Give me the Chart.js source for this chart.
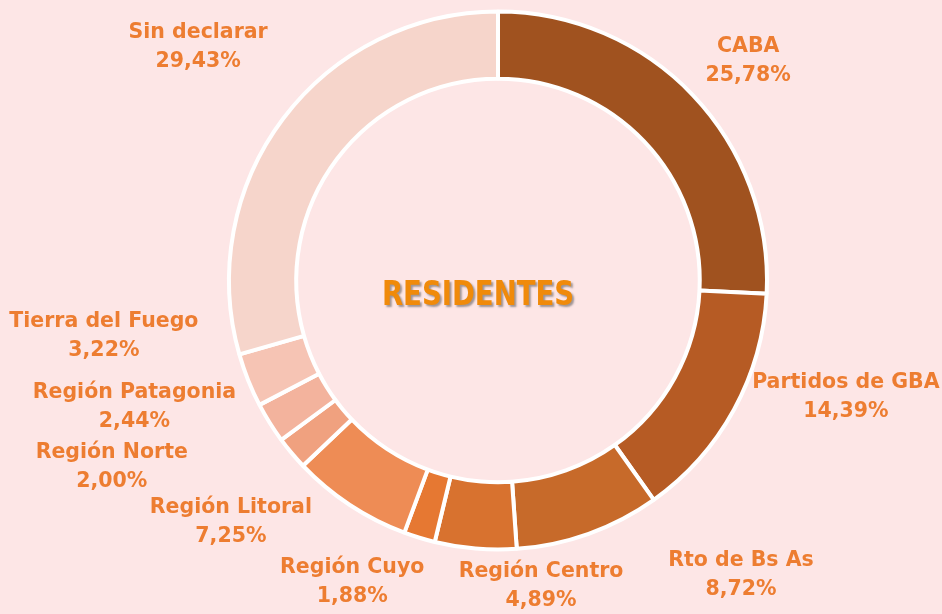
<!DOCTYPE html>
<html>
<head>
<meta charset="utf-8">
<script src="https://cdn.jsdelivr.net/npm/chart.js@4.4.0/dist/chart.umd.min.js"></script>
<style>
    html, body { margin: 0; padding: 0; background: #FDE6E6; }
    #wrap { width: 942px; height: 614px; }
</style>
</head>
<body>
<div id="wrap"><canvas id="residentesChart"></canvas></div>
<script>
// Datos
const regiones = ['CABA', 'Partidos de GBA', 'Rto de Bs As', 'Región Centro', 'Región Cuyo',
    'Región Litoral', 'Región Norte', 'Región Patagonia', 'Tierra del Fuego', 'Sin declarar'];
const porcentajes = [25.78, 14.39, 8.72, 4.89, 1.88, 7.25, 2.00, 2.44, 3.22, 29.43];
const colores = ['#A0521F', '#B65B24', '#C76A2A', '#D8722F', '#E67832',
    '#EE8C55', '#F0A17F', '#F3B39D', '#F6C4B4', '#F6D5CB'];
const titulo = 'RESIDENTES';

// Ubicación de las etiquetas (ángulo desde arriba en grados, distancia al centro en px)
const etiquetaAngulo = [48.7, 108.6, 140.5, 172, 205.8, 227.9, 244.2, 250.8, 262, 307.9];
const etiquetaDist = [333, 367, 382, 309, 335, 360, 429, 385, 398, 380];

function formatPct(v) {
    return v.toFixed(2).replace('.', ',') + '%';
}

const etiquetasPlugin = {
    id: 'etiquetas',
    afterDatasetsDraw(chart) {
        const ctx = chart.ctx;
        const arc = chart.getDatasetMeta(0).data[0];
        const cx = arc.x, cy = arc.y;
        ctx.save();
        ctx.textAlign = 'center';
        ctx.textBaseline = 'middle';
        ctx.fillStyle = '#ED7D31';
        ctx.font = 'bold 20.5px "DejaVu Sans"';
        regiones.forEach(function(nombre, i) {
            const a = etiquetaAngulo[i] * Math.PI / 180;
            const x = cx + Math.sin(a) * etiquetaDist[i];
            const y = cy - Math.cos(a) * etiquetaDist[i];
            ctx.fillText(nombre, x, y - 14.5);
            ctx.fillText(formatPct(porcentajes[i]), x, y + 14.5);
        });

        // Título central (algo a la izquierda del centro, como en el original)
        ctx.font = 'bold 34px "DejaVu Sans Condensed", "DejaVu Sans"';
        ctx.shadowColor = 'rgba(80, 80, 80, 0.55)';
        ctx.shadowOffsetX = 2;
        ctx.shadowOffsetY = 2;
        ctx.shadowBlur = 2;
        ctx.fillStyle = '#F08A0A';
        ctx.translate(cx - 20, cy + 16);
        ctx.scale(0.9, 1);
        ctx.fillText(titulo, 0, 0);
        ctx.restore();
    }
};

const ctx = document.getElementById('residentesChart').getContext('2d');
new Chart(ctx, {
    type: 'doughnut',
    data: {
        labels: regiones,
        datasets: [{
            data: porcentajes,
            backgroundColor: colores,
            borderColor: '#FFFFFF',
            borderWidth: 4
        }]
    },
    options: {
        responsive: true,
        maintainAspectRatio: false,
        animation: false,
        cutout: '75%',
        layout: {
            padding: { top: 9, bottom: 62, left: 227, right: 173 }
        },
        plugins: {
            legend: { display: false },
            tooltip: { enabled: false }
        }
    },
    plugins: [etiquetasPlugin]
});
</script>
</body>
</html>
